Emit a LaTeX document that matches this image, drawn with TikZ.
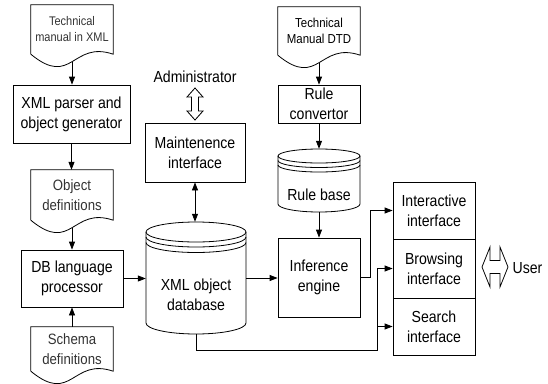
\documentclass[tikz,border=0pt]{standalone}
\usepackage{fontspec}
\setmainfont{Liberation Sans}[FakeStretch=0.88]
\usetikzlibrary{arrows.meta,calc}
\newcommand{\docoutline}[1]{%
  \draw[ln] (#1.south west) -- (#1.north west) -- (#1.north east) -- (#1.south east)
    .. controls ($(#1.south east)!0.5!(#1.south west)+(0,-14)$) and ($(#1.south east)!0.5!(#1.south west)+(0,34)$) .. (#1.south west);%
  \coordinate (#1w) at ($(#1.south)+(0,7.5)$);}
\begin{document}
\begin{tikzpicture}[x=1pt,y=-1pt,
  ln/.style={line width=0.8pt},
  box/.style={draw, ln, align=center, inner sep=0pt, font=\fontsize{16}{20}\selectfont},
  plain/.style={inner sep=0pt, align=center, font=\fontsize{16}{20}\selectfont},
  docnode/.style={inner sep=0pt, align=center, minimum width=82pt, text=black!80},
  cylnode/.style={inner sep=0pt},
  arr/.style={ln, -{Triangle[length=8pt,width=6pt]}},
  darr/.style={ln, {Triangle[length=8pt,width=6pt]}-{Triangle[length=8pt,width=6pt]}},
]
\useasboundingbox (0,0) rectangle (548,383);

% documents
\node[docnode, minimum height=49pt, font=\fontsize{12.5}{16}\selectfont] (d1) at (72,29.5) {Technical\\manual in XML};
\docoutline{d1}
\node[docnode, minimum height=50pt, font=\fontsize{15}{20}\selectfont] (d2) at (72,195) {Object\\definitions};
\docoutline{d2}
\node[docnode, minimum height=44pt, font=\fontsize{15}{20}\selectfont] (d3) at (72,349) {Schema\\definitions};
\docoutline{d3}
\node[docnode, minimum height=48pt, text=black, font=\fontsize{13}{15.5}\selectfont] (dtd) at (319,31) {Technical\\Manual DTD};
\docoutline{dtd}

% boxes
\node[box, minimum width=117pt, minimum height=58pt] (parser) at (71.5,114) {XML parser and\\object generator};
\node[box, minimum width=102pt, minimum height=57pt] (dbproc) at (72,278.5) {DB language\\processor};
\node[box, minimum width=100pt, minimum height=59pt] (maint) at (195,152.5) {Maintenence\\interface};
\node[box, minimum width=82pt, minimum height=38pt] (rconv) at (319,104) {Rule\\convertor};
\node[box, minimum width=82pt, minimum height=79pt] (infer) at (319,277.5) {Inference\\engine};
\node[box, minimum width=82pt, minimum height=57pt] (inter) at (434,210.5) {Interactive\\interface};
\node[box, minimum width=82pt, minimum height=59pt] (brows) at (434,268.5) {Browsing\\interface};
\node[box, minimum width=82pt, minimum height=57pt] (search) at (434,326.5) {Search\\interface};

% XML object database cylinder
\node[cylnode, minimum width=100pt, minimum height=112pt] (xmldb) at (196,278) {};
\draw[ln] (146,232) arc[start angle=180, end angle=-180, x radius=50, y radius=10];
\draw[ln] (146,237) arc[start angle=180, end angle=0, x radius=50, y radius=10];
\draw[ln] (146,242.5) arc[start angle=180, end angle=0, x radius=50, y radius=10];
\draw[ln] (146,232) -- (146,323) arc[start angle=180, end angle=0, x radius=50, y radius=11] -- (246,232);
\node[plain] (xmldbt) at (196,295) {XML object\\database};

% Rule base cylinder
\node[cylnode, minimum width=82pt, minimum height=63pt] (rbase) at (319,180.5) {};
\draw[ln] (278,156) arc[start angle=180, end angle=-180, x radius=41, y radius=7];
\draw[ln] (278,160.5) arc[start angle=180, end angle=0, x radius=41, y radius=7];
\draw[ln] (278,165) arc[start angle=180, end angle=0, x radius=41, y radius=7];
\draw[ln] (278,156) -- (278,204) arc[start angle=180, end angle=0, x radius=41, y radius=8] -- (360,156);
\node[plain] (rbaset) at (319,195) {Rule base};

% labels
\node[plain] (admin) at (195,77) {Administrator};
\node[plain, anchor=west] (user) at (512.5,268) {User};

% hollow arrows
\coordinate (adarr) at (195,104);
\draw[ln, shift={(adarr)}] (0,-16) -- (8,-7) -- (3.5,-7) -- (3.5,7) -- (8,7) -- (0,16) -- (-8,7) -- (-3.5,7) -- (-3.5,-7) -- (-8,-7) -- cycle;
\coordinate (usarr) at (495,267);
\draw[ln, shift={(usarr)}] (-13,0) -- (-5,-20) -- (-5,-6.5) -- (5,-6.5) -- (5,-20) -- (13,0) -- (5,20) -- (5,6.5) -- (-5,6.5) -- (-5,20) -- cycle;

% connectors
\draw[arr] (d1w) -- (d1w |- parser.north);
\draw[arr] (parser.south) -- (parser.south |- d2.north);
\draw[arr] (d2w) -- (d2w |- dbproc.north);
\draw[arr] (d3.north) -- (d3.north |- dbproc.south);
\draw[arr] (dbproc.east) -- (dbproc.east -| xmldb.west);
\draw[darr] (maint.south) -- (maint.south |- xmldb.north);
\draw[arr] (dtdw) -- (dtdw |- rconv.north);
\draw[arr] (rconv.south) -- (rbase.north);
\draw[arr] (rbase.south) -- (infer.north);
\draw[arr] (xmldb.east) -- (xmldb.east -| infer.west);
\draw[arr] (infer.east) -- ++(10,0) |- (inter.west);
\coordinate (jn) at (377,350);
\draw[arr] (xmldb.south) |- (jn) |- (brows.west);
\draw[arr] (jn) |- (search.west);
\end{tikzpicture}
\end{document}
